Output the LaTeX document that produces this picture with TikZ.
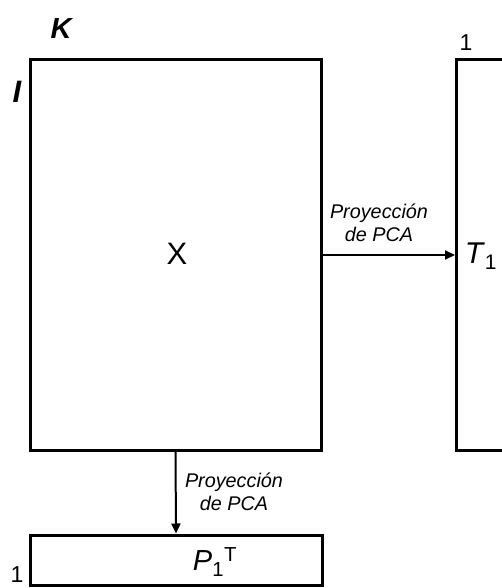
\documentclass[tikz,border=0pt]{standalone}
\usepackage{fontspec}
\setmainfont{Liberation Sans}
\usetikzlibrary{arrows.meta,positioning}

\begin{document}
\begin{tikzpicture}[x=1pt,y=-1pt,
    mat/.style={draw,line width=3pt,inner sep=0pt},
    lbl/.style={inner sep=0pt,font=\fontsize{23}{26}\selectfont},
    dim/.style={inner sep=0pt,font=\fontsize{29}{32}\selectfont\bfseries\itshape},
    proj/.style={align=center,inner sep=0pt,font=\fontsize{19.8}{23}\selectfont\itshape},
    arr/.style={-{Triangle[length=10pt,width=9pt]},line width=2pt}]
    \useasboundingbox (0,0) rectangle (502,588);
    \clip (0,0) rectangle (502,588);
    \node[mat,minimum width=291pt,minimum height=390pt] (X) at (175.5,255) {};
    \node[mat,minimum width=100pt,minimum height=390pt,anchor=west] (T) at (455,255) {};
    \node[mat,minimum width=292pt,minimum height=50pt] (P) at (176,560) {};
    \node[lbl,font=\fontsize{31}{32}\selectfont] (Xlab) at (177,254) {X};
    \node[lbl,font=\fontsize{30}{32}\selectfont] (Tlab) at (481,256) {\textit{T}\textsubscript{1}};
    \node[lbl,font=\fontsize{29}{32}\selectfont] (Plab) at (215,562) {\textit{P}\textsubscript{1}\textsuperscript{T}};
    % dimensions
    \node[dim] (K) at (61,29) {K};
    \node[dim,font=\fontsize{31}{32}\selectfont\bfseries\itshape] (I) at (17,92) {I};
    \node[lbl] (Tone) at (466,43) {1};
    \node[lbl] (Pone) at (17,575) {1};
    % projections
    \draw[arr] (X.east) -- (T.west);
    \draw[arr] (X.south) -- (P.north);
    \node[proj] (projT) at (379,223) {Proyección\\de PCA};
    \node[proj] (projP) at (234,492) {Proyección\\de PCA};
\end{tikzpicture}
\end{document}
